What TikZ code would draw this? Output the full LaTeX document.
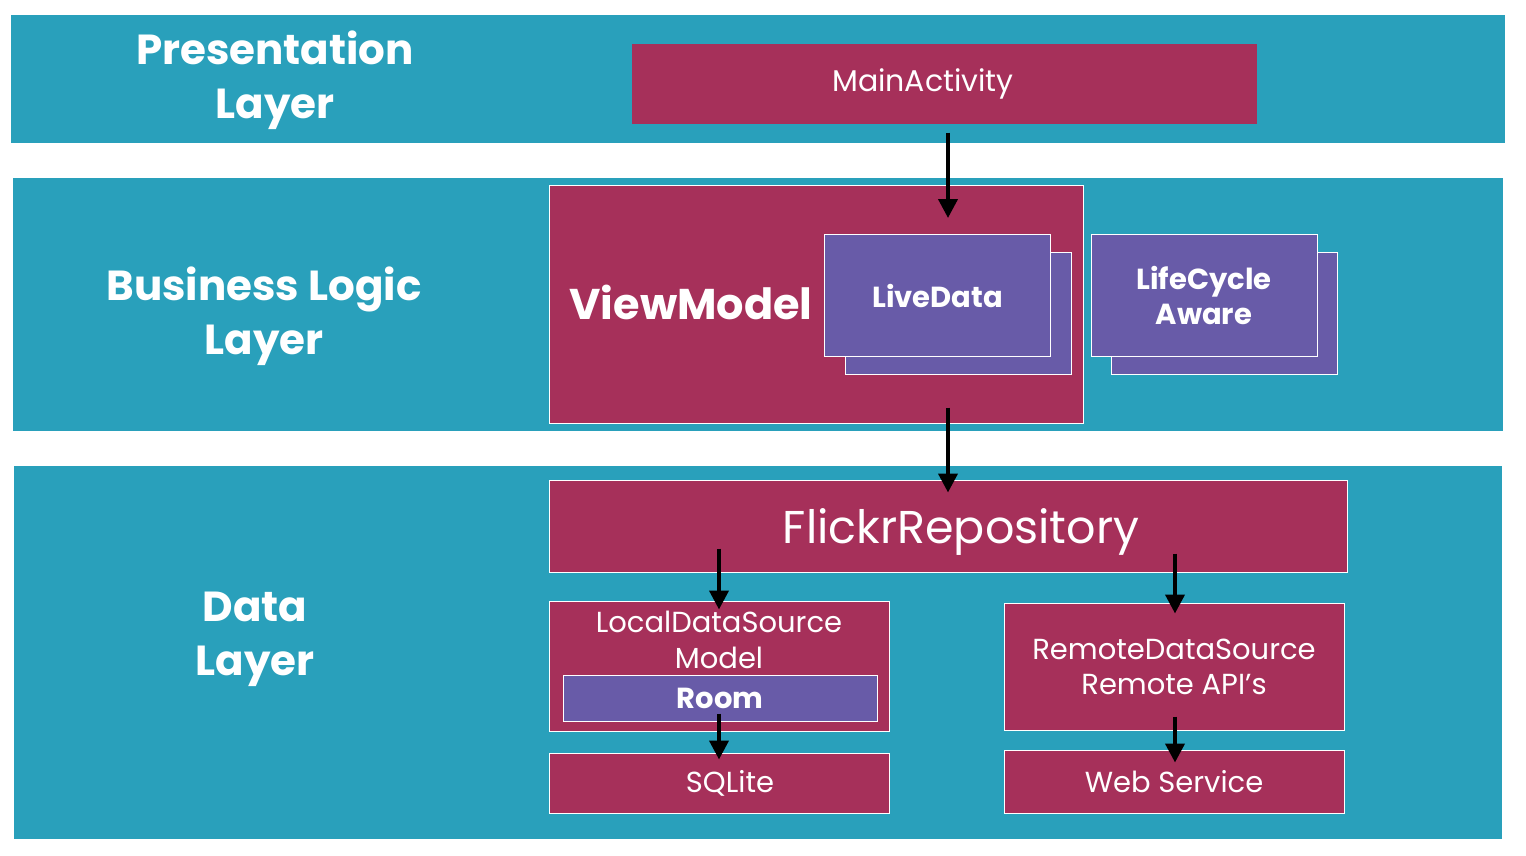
\documentclass[tikz,border=0pt]{standalone}
\usepackage{fontspec}
\setmainfont{Poppins}
\usetikzlibrary{arrows.meta}
\definecolor{layerteal}{RGB}{41,160,187}
\definecolor{boxred}{RGB}{166,48,90}
\definecolor{boxviolet}{RGB}{104,91,168}

\begin{document}
\begin{tikzpicture}[x=1pt,y=-1pt,
  layer/.style={fill=layerteal, inner sep=0pt},
  box/.style={draw=white, line width=1pt, fill=boxred, text=white, inner sep=0pt, align=center,
    font=\fontsize{29}{35}\selectfont},
  card/.style={draw=white, line width=1pt, fill=boxviolet, text=white, inner sep=0pt, align=center,
    font=\fontsize{29}{35}\selectfont\bfseries},
  heading/.style={text=white, align=center, font=\fontsize{42}{54}\selectfont\bfseries},
  arr/.style={line width=4pt, -{Triangle[length=19pt,width=19pt]}}]
 \useasboundingbox[fill=white] (0,0) rectangle (1526,855);
 % layers
 \node (pres) [layer, minimum width=1494pt, minimum height=128pt] at (758,79) {};
 \node (busi) [layer, minimum width=1490pt, minimum height=253pt] at (758,304.5) {};
 \node (data) [layer, minimum width=1488pt, minimum height=373pt] at (758,652.5) {};
 \node (presl) [heading] at (275,80) {Presentation\\Layer};
 \node (busil) [heading] at (264,316) {Business Logic\\Layer};
 \node (datal) [heading] at (255,639) {Data\\Layer};
 % presentation
 \node (main) [box, draw=none, minimum width=625pt, minimum height=80pt] at (944.5,84) {};
 \node (mainl) [text=white, font=\fontsize{30}{35}\selectfont] at (923,84) {MainActivity};
 % business logic
 \node (vm) [box, minimum width=534pt, minimum height=238pt] at (816,304) {};
 \node (vml) [text=white, font=\fontsize{43}{48}\selectfont\bfseries] at (691,302) {ViewModel};
 \node (liveb) [card, minimum width=226pt, minimum height=122pt] at (958,313) {};
 \node (live) [card, minimum width=226pt, minimum height=122pt] at (937.5,295.5) {LiveData};
 \node (lifeb) [card, minimum width=226pt, minimum height=122pt] at (1224,313) {};
 \node (life) [card, minimum width=226pt, minimum height=122pt] at (1204,295.5) {LifeCycle\\Aware};
 % data
 \node (repo) [box, minimum width=798pt, minimum height=92pt] at (948,526) {};
 \node (repol) [text=white, font=\fontsize{46}{52}\selectfont] at (961,532) {FlickrRepository};
 \node (local) [box, minimum width=340pt, minimum height=130pt] at (719,666) {};
 \node (localt) [text=white, align=center, font=\fontsize{29}{36}\selectfont] at (719,640) {LocalDataSource\\Model};
 \node (room) [card, minimum width=314pt, minimum height=46pt] at (720,698) {Room};
 \node (sqlite) [box, minimum width=340pt, minimum height=60pt] at (719,783) {};
 \node (sqlitel) [text=white, font=\fontsize{29}{35}\selectfont] at (730,783) {SQLite};
 \node (remote) [box, minimum width=340pt, minimum height=127pt] at (1174,666.5) {RemoteDataSource\\Remote API’s};
 \node (web) [box, minimum width=340pt, minimum height=63pt] at (1174,781.5) {Web Service};
 % arrows
 \draw[arr] ([xshift=3.5pt,yshift=-8pt]main.south) -- ([xshift=10.5pt,yshift=16pt]live.north);
 \draw[arr] ([xshift=132pt,yshift=16pt]vm.south) -- ([yshift=-13pt]repo.north);
 \draw[arr] ([xshift=-229pt,yshift=24pt]repo.south) -- ([yshift=-9pt]local.north);
 \draw[arr] ([xshift=227pt,yshift=19pt]repo.south) -- ([xshift=1pt,yshift=-11pt]remote.north);
 \draw[arr] ([xshift=-1pt,yshift=8pt]room.south) -- ([yshift=-7pt]sqlite.north);
 \draw[arr] ([xshift=1pt,yshift=14pt]remote.south) -- ([xshift=1pt,yshift=-13pt]web.north);
\end{tikzpicture}
\end{document}
